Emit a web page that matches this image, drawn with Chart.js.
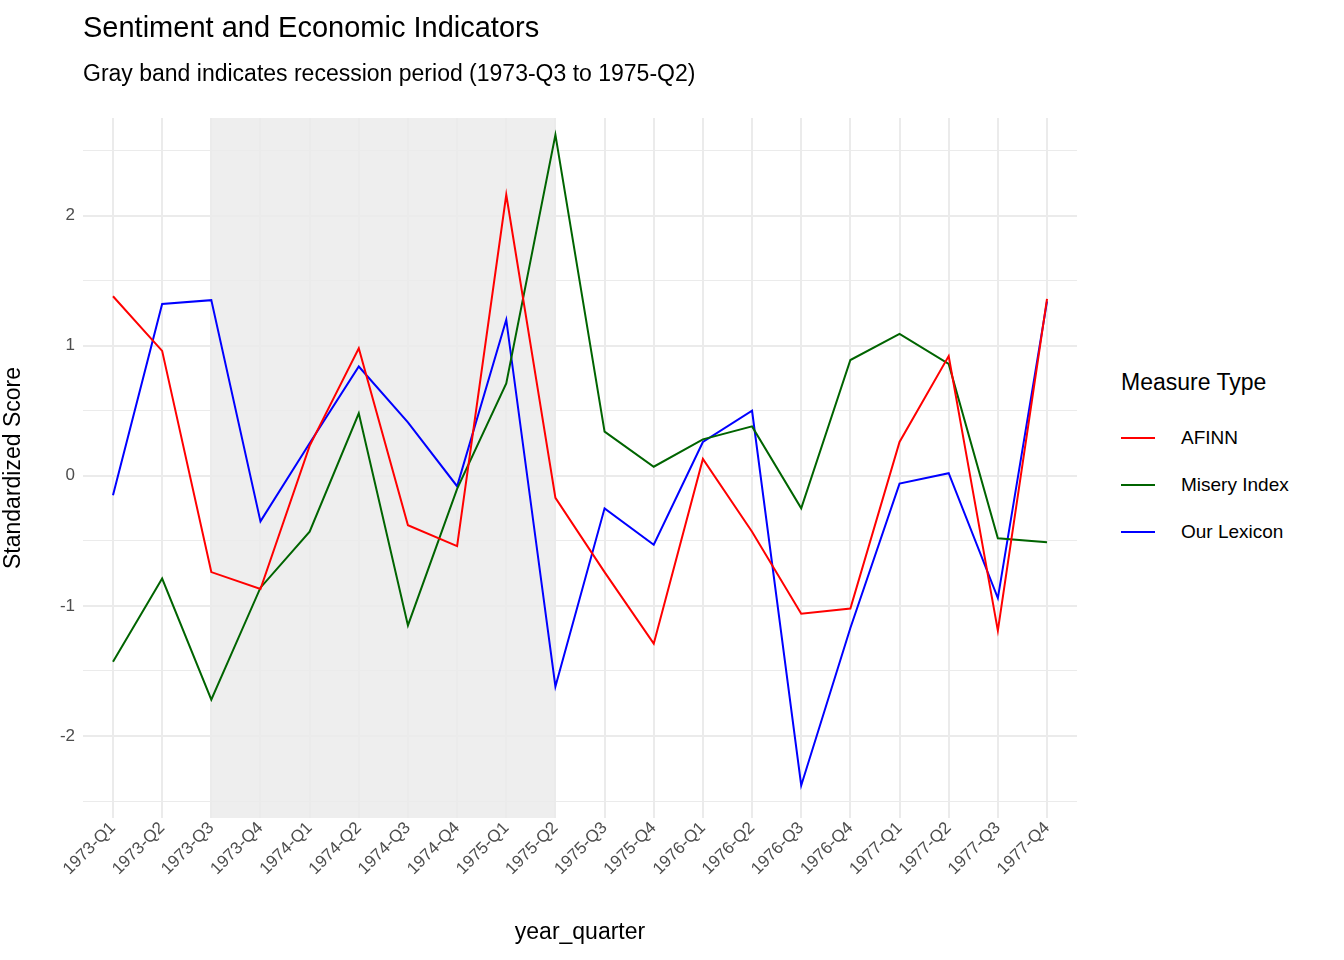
<!DOCTYPE html>
<html>
<head>
<meta charset="utf-8">
<script src="https://cdn.jsdelivr.net/npm/chart.js@4"></script>
<style>
  body { margin: 0; background: #fff; font-family: "Liberation Sans", Arial, sans-serif; }
  #wrap { position: relative; width: 1344px; height: 960px; }
  #chart { position: absolute; left: 0; top: 0; }
  .title { position: absolute; left: 83px; top: 11px; font-size: 29px; color: #000; }
  .subtitle { position: absolute; left: 83px; top: 60px; font-size: 23px; color: #000; }
  #legend { position: absolute; left: 1121px; top: 369px; }
  #legend .head { font-size: 23px; margin-bottom: 18px; }
  #legend .item { display: flex; align-items: center; height: 47px; font-size: 19px; }
  #legend .key { width: 34px; height: 2px; margin-right: 26px; }
</style>
</head>
<body>
<div id="wrap">
  <canvas id="chart" width="1090" height="960"></canvas>
  <div class="title">Sentiment and Economic Indicators</div>
  <div class="subtitle">Gray band indicates recession period (1973-Q3 to 1975-Q2)</div>
  <div id="legend"></div>
</div>
<script>
const quarters = ['1973-Q1','1973-Q2','1973-Q3','1973-Q4','1974-Q1','1974-Q2','1974-Q3','1974-Q4',
  '1975-Q1','1975-Q2','1975-Q3','1975-Q4','1976-Q1','1976-Q2','1976-Q3','1976-Q4',
  '1977-Q1','1977-Q2','1977-Q3','1977-Q4'];
const afinn = [1.38, 0.96, -0.74, -0.87, 0.23, 0.98, -0.38, -0.54, 2.16, -0.17,
  -0.74, -1.29, 0.13, -0.43, -1.06, -1.02, 0.26, 0.92, -1.19, 1.36];
const misery = [-1.43, -0.79, -1.72, -0.86, -0.43, 0.48, -1.15, -0.10, 0.71, 2.62,
  0.34, 0.07, 0.28, 0.38, -0.25, 0.89, 1.09, 0.86, -0.48, -0.51];
const lexicon = [-0.15, 1.32, 1.35, -0.35, 0.25, 0.84, 0.41, -0.08, 1.20, -1.62,
  -0.25, -0.53, 0.26, 0.50, -2.38, -1.17, -0.06, 0.02, -0.94, 1.34];
const recessionStart = 2, recessionEnd = 9;

const series = [
  { name: 'AFINN', values: afinn, color: '#ff0000' },
  { name: 'Misery Index', values: misery, color: '#006400' },
  { name: 'Our Lexicon', values: lexicon, color: '#0000ff' }
];

const legendEl = document.getElementById('legend');
legendEl.innerHTML = '<div class="head">Measure Type</div>' + series.map(s =>
  `<div class="item"><span class="key" style="background:${s.color}"></span>${s.name}</div>`).join('');

const bandPlugin = {
  id: 'band',
  beforeDraw(chart) {
    const { ctx, chartArea, scales } = chart;
    const x0 = scales.x.getPixelForValue(recessionStart);
    const x1 = scales.x.getPixelForValue(recessionEnd);
    ctx.save();
    ctx.fillStyle = '#eeeeee';
    ctx.fillRect(x0, chartArea.top, x1 - x0, chartArea.bottom - chartArea.top);
    ctx.restore();
  }
};

const font = { family: '"Liberation Sans", Arial, sans-serif', size: 17 };

new Chart(document.getElementById('chart'), {
  type: 'line',
  data: {
    datasets: series.map(s => ({
      label: s.name,
      data: s.values.map((v, i) => ({ x: i, y: v })),
      borderColor: s.color,
      borderWidth: 2,
      pointRadius: 0,
      tension: 0
    }))
  },
  options: {
    responsive: false,
    animation: false,
    layout: { padding: { top: 118, right: 13, left: 0, bottom: 0 } },
    plugins: { legend: { display: false }, tooltip: { enabled: false } },
    scales: {
      x: {
        type: 'linear', min: -0.61, max: 19.61,
        afterFit(scale) { scale.height = 142; },
        afterBuildTicks(scale) { scale.ticks = quarters.map((q, i) => ({ value: i })); },
        ticks: {
          autoSkip: false, maxRotation: 45, minRotation: 45,
          color: '#4d4d4d', font, padding: 0,
          callback: v => quarters[v]
        },
        grid: { color: '#ebebeb', lineWidth: 2, drawTicks: false },
        border: { display: false },
        title: { display: true, text: 'year_quarter', color: '#000', font: { family: font.family, size: 23 }, padding: { top: 0, bottom: 14 } }
      },
      y: {
        min: -2.63, max: 2.75,
        afterFit(scale) { scale.width = 83; },
        afterBuildTicks(scale) {
          const t = [];
          for (let v = -2.5; v <= 2.5; v += 0.5) t.push({ value: v });
          scale.ticks = t;
        },
        ticks: {
          color: '#4d4d4d', font, padding: 8,
          callback: v => Number.isInteger(v) ? String(v) : ''
        },
        grid: {
          color: '#ebebeb', drawTicks: false,
          lineWidth: c => Number.isInteger(c.tick && c.tick.value) ? 2 : 1
        },
        border: { display: false },
        title: { display: true, text: 'Standardized Score', color: '#000', font: { family: font.family, size: 23 }, padding: { top: 0, bottom: 0 } }
      }
    }
  },
  plugins: [bandPlugin]
});
</script>
</body>
</html>
